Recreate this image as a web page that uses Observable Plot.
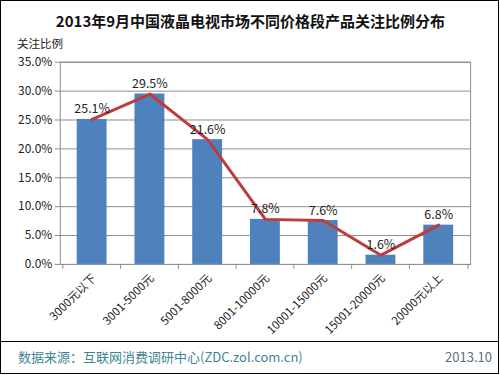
<!DOCTYPE html>
<html>
<head>
<meta charset="utf-8">
<script src="https://cdn.jsdelivr.net/npm/d3@7"></script>
<script src="https://cdn.jsdelivr.net/npm/@observablehq/plot@0.6"></script>
<style>
  html, body { margin: 0; padding: 0; background: #fff; }
  #frame {
    position: relative; box-sizing: border-box; width: 499px; height: 374px;
    border: 1px solid #000; background: #fff; overflow: hidden;
    font-family: "Noto Sans CJK SC", "Noto Sans", sans-serif;
  }
  #title {
    position: absolute; left: 0; width: 499px; top: 10px; text-align: center;
    font-size: 15px; font-weight: bold; color: #111; line-height: 20px;
  }
  #ylabel { position: absolute; left: 16px; top: 34px; font-size: 11.5px; color: #222; line-height: 16px; }
  #chart { position: absolute; left: -1px; top: -1px; }
  #sep { position: absolute; left: 0; width: 497px; top: 340px; height: 0; border-top: 1px solid #000; }
  #source { position: absolute; left: 17px; top: 347px; font-size: 13px; color: #3f8594; line-height: 18px; }
  #date { position: absolute; right: 6px; top: 347px; font-size: 13px; color: #5a6f7a; line-height: 18px; }
</style>
</head>
<body>
<div id="frame">
  <div id="chart"></div>
  <div id="title">2013年9月中国液晶电视市场不同价格段产品关注比例分布</div>
  <div id="ylabel">关注比例</div>
  <div id="sep"></div>
  <div id="source">数据来源：互联网消费调研中心(ZDC.zol.com.cn)</div>
  <div id="date">2013.10</div>
</div>
<script>
const categories = ["3000元以下", "3001-5000元", "5001-8000元", "8001-10000元", "10001-15000元", "15001-20000元", "20000元以上"];
const values = [25.1, 29.5, 21.6, 7.8, 7.6, 1.6, 6.8];
const yTicks = [0, 5, 10, 15, 20, 25, 30, 35];

const data = categories.map((c, i) => ({cat: c, v: values[i]}));

const W = 500, H = 340, mL = 60, mR = 28, mT = 62, mB = 75;
const step = (W - mL - mR) / categories.length;
const font = "Noto Sans CJK SC, Noto Sans, sans-serif";

const chart = Plot.plot({
  width: W, height: H,
  marginTop: mT, marginBottom: mB, marginLeft: mL, marginRight: mR,
  style: {fontFamily: font, background: "transparent", color: "#222"},
  x: {domain: categories, paddingInner: 0.49, paddingOuter: 0.245, axis: null},
  y: {domain: [0, 35], axis: null},
  marks: [
    Plot.ruleY(yTicks, {stroke: "#8c8c8c", strokeWidth: 1}),
    Plot.frame({stroke: "#8c8c8c"}),
    Plot.axisY({ticks: yTicks, tickFormat: d => d.toFixed(1) + "%", tickSize: 5, tickPadding: 3, fontSize: 12, stroke: "#8c8c8c", label: null}),
    Plot.ruleX(categories, {x: d => d, y1: 0, y2: 0, insetTop: 0, insetBottom: -5, dx: -step / 2, stroke: "#8c8c8c"}),
    Plot.ruleX([categories[categories.length - 1]], {x: d => d, y1: 0, y2: 0, insetTop: 0, insetBottom: -5, dx: step / 2, stroke: "#8c8c8c"}),
    Plot.barY(data, {x: "cat", y: "v", fill: "#4f81bd"}),
    Plot.line(data, {x: "cat", y: "v", stroke: "#be3c3c", strokeWidth: 3, curve: "linear"}),
    Plot.text(data, {x: "cat", y: "v", text: d => d.v.toFixed(1) + "%", lineAnchor: "bottom", dy: -6, fontSize: 12.5, fill: "#222"}),
    Plot.text(categories, {x: d => d, y: 0, text: d => d, rotate: -45, textAnchor: "end", lineAnchor: "middle", dx: 2, dy: 12, fontSize: 11.5, fill: "#222"})
  ]
});
document.getElementById("chart").appendChild(chart);
</script>
</body>
</html>
